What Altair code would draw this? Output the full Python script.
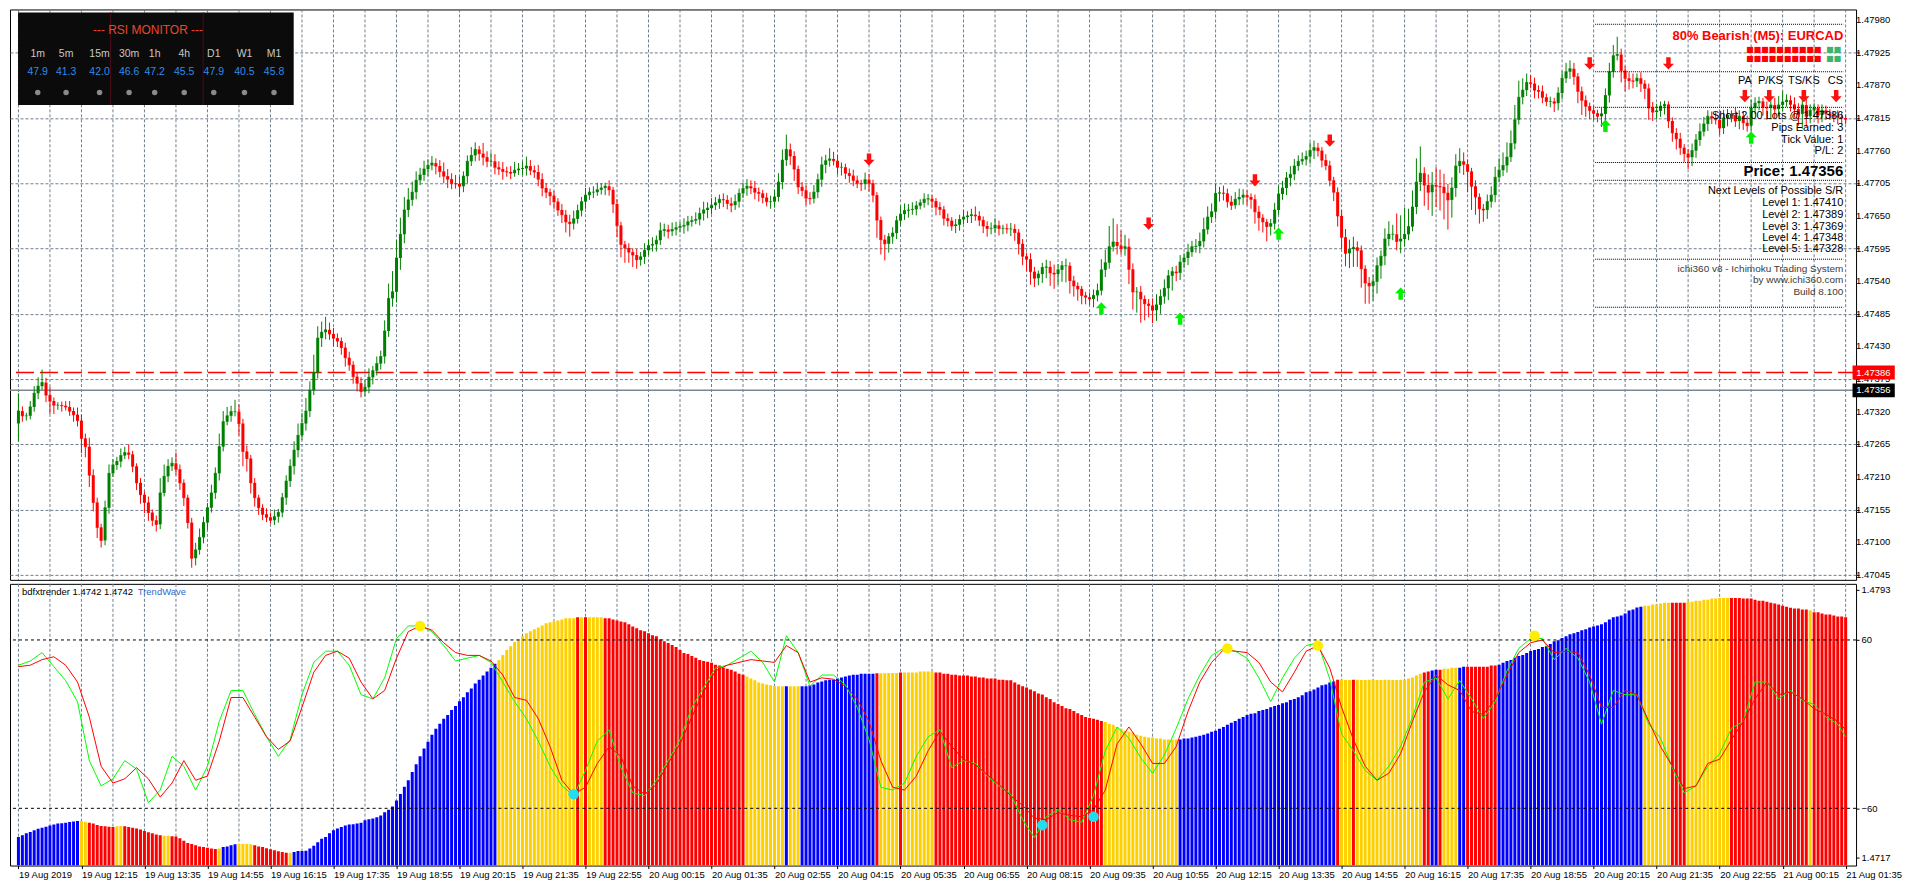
import json
import altair as alt
import pandas as pd

# ---------------------------------------------------------------- data
BASE = 1.47          # prices stored as points (0.00001) above 1.47000
PT = 1e-5

first_open = 300
close_pts = [
    321,313,313,328,351,363,369,348,338,331,331,330,328,321,315,305,275,261,213,167,
    125,103,158,216,230,236,246,251,248,228,200,180,167,150,137,130,183,211,228,233,
    223,200,175,133,73,87,108,133,158,183,216,261,303,313,320,320,300,253,241,200,
    175,158,147,142,137,143,150,175,203,228,255,280,300,321,356,386,444,454,458,451,
    444,439,428,411,399,379,368,354,361,378,389,401,413,456,511,522,579,619,660,677,
    690,710,719,729,735,739,734,725,717,712,705,704,700,717,742,752,762,755,749,742,
    742,732,729,725,724,722,727,729,730,734,727,724,712,697,690,684,674,660,652,640,
    637,645,659,674,685,690,690,694,697,700,694,670,634,602,596,589,584,576,581,592,
    600,602,609,625,627,624,627,630,632,634,640,642,644,654,660,663,668,672,678,677,
    671,668,674,688,696,700,697,690,688,681,674,674,682,707,744,762,751,729,699,693,
    680,679,690,711,736,743,746,743,732,732,722,718,710,705,704,711,705,685,643,610,
    603,615,621,642,653,659,660,661,667,672,678,679,675,665,661,646,642,633,635,644,
    648,650,652,650,643,633,629,629,634,629,629,628,628,622,603,582,577,556,545,552,
    563,564,554,552,559,566,566,541,532,527,516,513,510,516,524,559,571,598,606,600,
    595,598,560,522,522,510,502,499,491,500,514,528,549,556,554,572,579,589,598,599,
    607,627,648,657,688,689,688,674,668,678,681,685,682,678,657,647,640,632,637,660,
    687,697,714,720,734,742,745,750,760,765,760,744,735,710,690,650,614,587,594,597,
    592,561,537,532,539,566,582,611,619,619,607,611,619,632,665,707,722,702,690,702,
    700,699,689,677,697,734,742,737,725,700,682,662,660,674,685,715,727,735,749,772,
    812,850,862,875,873,862,860,850,843,843,840,857,882,893,898,885,860,845,835,828,
    823,818,822,853,893,920,922,895,882,878,877,882,873,865,832,825,827,835,838,810,
    790,780,765,755,749,760,778,792,805,818,815,812,798,815,820,820,810,818,807,802,
    832,840,843,833,832,837,830,837,842,845,838,830,822,837,818,828,832,820,828,822,
    820,818,817,815,813,
]
wick_up = [
    30,8,5,10,12,15,22,8,14,6,5,6,8,10,6,12,10,8,15,10,
    8,6,12,15,10,8,12,10,14,6,5,8,6,10,5,8,25,20,12,10,
    18,8,6,5,8,12,15,10,8,14,10,22,18,15,10,20,12,8,10,6,
    8,5,6,10,8,12,6,8,10,12,15,20,18,22,15,30,20,18,22,12,
    10,8,6,8,10,6,8,10,12,15,8,12,10,18,25,35,30,28,22,20,
    18,15,12,14,10,12,8,10,15,12,10,14,12,8,10,14,12,6,18,10,
    15,12,10,12,8,10,14,10,12,16,10,8,12,10,8,6,8,6,10,8,
    12,14,10,8,12,8,10,12,8,6,10,5,8,6,6,8,6,10,8,12,
    10,12,8,14,10,8,12,10,8,12,10,8,12,10,14,10,12,10,8,10,
    8,10,12,8,10,12,10,12,8,6,8,10,12,15,18,25,10,8,6,8,
    8,10,12,10,14,10,18,12,10,8,6,8,10,8,6,12,10,6,5,6,
    8,6,10,8,14,12,10,12,8,6,10,8,6,5,8,6,8,6,10,8,
    12,8,10,14,8,6,8,10,12,8,6,8,10,8,6,8,6,10,8,6,
    8,12,10,14,10,8,12,6,8,6,5,6,8,10,12,18,22,35,40,30,
    25,20,14,10,8,10,6,8,12,18,12,15,10,8,10,12,8,14,10,12,
    15,20,18,14,16,10,12,8,10,12,15,10,8,6,8,10,6,5,8,12,
    14,12,10,14,12,10,12,10,14,12,8,6,10,8,6,8,10,14,16,18,
    10,8,6,10,12,14,10,18,22,16,35,40,45,30,28,40,45,10,18,22,
    30,28,22,15,18,20,22,15,8,6,10,6,8,12,15,18,20,22,25,22,
    25,28,20,15,12,10,8,10,6,8,6,10,12,15,14,10,6,8,8,6,
    8,6,10,12,15,18,30,10,8,10,12,8,10,6,8,10,12,8,6,5,
    6,8,10,6,8,12,10,14,12,10,8,10,12,14,10,8,12,10,8,12,
    14,10,8,6,10,8,12,15,18,10,8,12,10,25,14,10,8,6,10,8,
    8,6,10,8,6,
]
wick_dn = [
    30,10,8,6,8,10,6,12,22,15,8,10,6,8,12,10,25,18,20,15,
    18,12,8,10,6,8,10,6,8,10,12,15,18,14,10,12,8,6,10,8,
    10,12,14,10,16,12,8,10,12,8,10,12,8,6,10,8,20,25,22,18,
    15,12,10,8,6,8,10,8,12,10,14,12,8,12,10,8,10,15,12,10,
    14,10,12,15,10,12,14,10,8,10,12,8,10,12,10,14,18,20,15,12,
    10,12,8,10,12,8,14,10,12,15,10,8,18,10,12,8,10,12,14,10,
    8,12,10,14,8,10,6,8,10,12,8,10,12,14,10,16,12,10,14,18,
    22,10,8,10,12,8,10,6,8,12,10,15,20,22,25,18,20,15,10,12,
    8,10,12,8,10,12,8,10,8,12,10,8,6,10,12,14,10,8,10,12,
    10,12,8,10,8,12,10,12,14,10,8,12,10,8,12,10,15,20,12,10,
    12,10,8,10,12,14,10,8,12,14,10,12,10,8,12,10,14,12,30,25,
    28,15,12,10,8,10,12,8,10,6,8,10,12,14,10,12,10,8,12,10,
    8,10,12,8,10,12,14,10,8,12,10,8,12,14,18,15,20,22,15,12,
    15,18,22,25,18,20,28,22,18,20,15,12,10,14,10,8,12,10,8,15,
    10,12,25,30,35,40,28,20,22,18,15,12,20,25,14,12,10,12,8,10,
    12,10,8,10,12,14,12,10,8,6,10,12,14,16,20,22,18,25,15,10,
    8,10,12,14,10,8,6,10,12,14,10,12,8,10,15,18,20,22,25,30,
    28,32,35,30,25,20,22,15,12,10,15,20,12,10,8,12,15,35,30,40,
    35,40,45,50,30,15,12,18,35,40,30,25,20,15,10,12,8,10,12,8,
    10,8,12,10,8,14,12,10,8,10,15,12,10,8,12,14,20,25,18,15,
    12,10,18,25,12,10,8,20,22,15,12,10,14,18,20,15,12,10,14,12,
    15,18,12,14,20,15,12,10,8,12,10,8,12,10,14,12,10,14,12,10,
    8,10,12,14,20,18,15,12,10,8,12,14,20,25,18,12,10,14,12,10,
    8,10,12,10,8,
]
# TrendWave histogram (points above 1.47000) and its colour state per bar
hist_pts = [
    229,234,239,243,248,252,255,258,261,264,267,268,269,271,273,274,274,272,269,267,
    263,260,259,258,257,259,260,259,257,255,253,250,246,242,239,236,234,232,232,231,
    230,225,218,212,209,205,202,200,198,196,195,196,200,202,205,208,209,209,209,208,
    205,202,200,197,194,191,188,186,184,184,186,189,189,190,196,204,214,224,229,239,
    248,253,257,261,264,265,267,269,276,279,281,285,290,299,306,315,332,351,371,390,
    413,435,458,480,499,519,536,550,564,575,589,600,614,625,639,650,664,675,687,698,
    709,720,731,745,759,770,782,790,798,807,812,818,823,829,835,838,840,843,846,849,
    849,849,852,852,852,852,852,852,852,849,849,846,843,840,838,832,826,821,815,812,
    807,801,798,790,784,779,773,768,759,751,748,742,737,731,728,726,723,717,715,709,
    706,703,698,692,689,684,678,673,667,664,661,659,656,656,656,656,656,656,656,656,
    656,659,661,667,670,673,675,675,678,681,684,687,689,689,692,692,692,692,693,693,
    693,694,694,694,695,695,695,695,695,698,698,698,698,695,695,692,692,689,689,687,
    687,687,684,684,681,681,678,678,678,675,675,673,673,667,661,656,653,647,642,636,
    633,625,620,611,606,600,594,592,586,580,575,569,566,564,561,558,555,550,547,541,
    536,530,527,525,519,516,513,511,511,508,508,505,505,505,505,505,508,508,511,513,
    516,519,522,527,530,536,541,547,553,558,564,569,575,578,580,586,589,592,597,600,
    603,608,611,617,620,625,631,639,642,647,653,659,661,667,670,675,675,674,674,675,
    675,674,674,675,675,674,674,675,675,674,674,675,675,678,681,687,692,695,698,701,
    703,703,706,706,709,709,709,712,712,712,712,712,712,712,715,715,717,723,728,731,
    737,742,745,751,756,759,762,768,770,776,784,787,793,798,804,807,810,815,818,823,
    826,829,832,838,846,852,854,857,863,871,874,880,882,885,885,888,888,891,893,893,
    893,893,893,893,896,896,899,899,902,902,905,905,907,907,907,907,907,907,905,905,
    905,902,899,899,896,893,891,888,885,882,879,877,877,874,874,871,866,866,863,860,
    860,857,854,854,852,
]
hist_runs = [
    ("B",16),("Y",2),("R",7),("Y",2),("R",10),("Y",2),("R",12),("Y",1),("B",4),("Y",4),
    ("R",9),("Y",1),("B",52),("Y",20),("R",1),("Y",1),("R",1),("Y",4),("R",36),("Y",10),
    ("B",1),("Y",3),("B",19),("R",1),("Y",5),("R",1),("Y",8),("R",43),("Y",19),("B",40),
    ("R",1),("Y",3),("R",1),("Y",17),("R",2),("B",2),("R",1),("Y",4),("B",2),("R",8),
    ("B",37),("Y",7),("R",4),("Y",11),("R",20),("Y",1),("R",9),
]
osc_bar = list(range(0, 463, 3)) + [464]
osc_fast = [
    42,45,51,41,31,16,-26,-44,-39,-26,
    -32,-56,-47,-23,-30,-47,-30,2,24,24,
    7,-9,-23,-11,21,44,52,52,42,21,
    18,33,61,70,70,66,56,45,47,49,
    44,30,16,4,-12,-30,-44,-51,-33,-12,
    -4,-31,-49,-51,-40,-26,-11,12,26,40,
    42,47,52,44,30,63,51,27,35,35,
    28,12,-11,-45,-47,-42,-23,-9,-4,-31,
    -26,-28,-37,-44,-50,-68,-81,-66,-61,-68,
    -70,-51,-19,-2,-10,-24,-35,-22,-3,18,
    35,49,54,52,47,33,16,33,47,56,
    58,32,-7,-19,-33,-40,-30,-16,5,30,
    33,18,31,18,4,16,38,54,61,61,
    46,54,47,30,0,24,21,21,0,-10,
    -31,-49,-44,-30,-21,-3,2,30,30,18,
    24,17,14,5,0,-9,
]
osc_slow = [
    41,42,46,48,42,30,5,-30,-42,-39,
    -31,-39,-52,-42,-26,-40,-37,-12,19,19,
    5,-9,-18,-12,12,37,49,52,47,30,
    18,24,47,66,70,67,58,51,49,49,
    45,35,19,17,4,-16,-40,-50,-45,-28,
    -16,-23,-44,-50,-43,-28,-14,5,23,38,
    42,44,46,45,44,56,51,30,33,32,
    27,18,2,-26,-45,-47,-37,-19,-5,-16,
    -25,-29,-36,-43,-51,-58,-67,-68,-63,-65,
    -66,-61,-47,-14,-2,-14,-28,-28,-16,9,
    30,44,53,52,51,44,30,23,37,52,
    56,40,12,-11,-30,-40,-35,-21,2,23,
    35,28,24,9,7,18,35,51,58,60,
    51,52,51,35,12,12,24,21,2,-16,
    -30,-46,-44,-28,-25,-11,2,18,30,21,
    23,18,11,7,2,-4,
]
peak_bar, peak_osc = [102, 307, 330, 385], [70, 54, 56, 63]
trough_bar, trough_osc = [141, 260, 273], [-50, -72, -66]

price_ticks = [1.47980, 1.47925, 1.47870, 1.47815, 1.47760, 1.47705, 1.47650, 1.47595,
               1.47540, 1.47485, 1.47430, 1.47375, 1.47320, 1.47265, 1.47210, 1.47155,
               1.47100, 1.47045]
ind_ticks = [1.4717, 1.4793]
osc_levels = [-60, 60]
time_labels = ["19 Aug 2019", "19 Aug 12:15", "19 Aug 13:35", "19 Aug 14:55", "19 Aug 16:15",
               "19 Aug 17:35", "19 Aug 18:55", "19 Aug 20:15", "19 Aug 21:35", "19 Aug 22:55",
               "20 Aug 00:15", "20 Aug 01:35", "20 Aug 02:55", "20 Aug 04:15", "20 Aug 05:35",
               "20 Aug 06:55", "20 Aug 08:15", "20 Aug 09:35", "20 Aug 10:55", "20 Aug 12:15",
               "20 Aug 13:35", "20 Aug 14:55", "20 Aug 16:15", "20 Aug 17:35", "20 Aug 18:55",
               "20 Aug 20:15", "20 Aug 21:35", "20 Aug 22:55", "21 Aug 00:15", "21 Aug 01:35"]
rsi_tf = ["1m", "5m", "15m", "30m", "1h", "4h", "D1", "W1", "M1"]
rsi_val = [47.9, 41.3, 42.0, 46.6, 47.2, 45.5, 47.9, 40.5, 45.8]
sell_bar = [216, 287, 314, 333, 399, 419]
sell_price = [1.47745, 1.47637, 1.47710, 1.47777, 1.47907, 1.47907]
buy_bar = [275, 295, 320, 351, 403, 440]
buy_price = [1.47494, 1.47477, 1.47620, 1.47519, 1.47802, 1.47782]
ask_price = 1.47386
bid_price = 1.47356
sr_levels = [1.47410, 1.47389, 1.47369, 1.47348, 1.47328]
bias_pct, symbol = 80, "EURCAD"
lots, pips, tick_value, pl = 2.00, 3, 1, 2
indicator_vals = [1.4742, 1.4742]

# ---------------------------------------------------------------- layout / style
W, H1, H2 = 1848, 571, 282
X_DOM = [-0.875, 465.375]
Y_DOM = [1.470365, 1.47998]
H_DOM = [1.471477, 1.479468]
O_DOM = [-100.8, 100.0]
PXB = W / (X_DOM[1] - X_DOM[0])
FONT = "Liberation Sans"
GRID = "#6F7D8C"
UP_C, DN_C = "#008000", "#FF0000"
HCOL = {"B": "#0000FF", "Y": "#FFD000", "R": "#FF0000"}
DOWN_ARROW = "M-0.4,-1.1L0.4,-1.1L0.4,0.05L1,0.05L0,1.1L-1,0.05L-0.4,0.05Z"
UP_ARROW = "M-0.4,1.1L0.4,1.1L0.4,-0.05L1,-0.05L0,-1.1L-1,-0.05L-0.4,-0.05Z"

xs = alt.Scale(domain=X_DOM, nice=False, zero=False)
ys = alt.Scale(domain=Y_DOM, nice=False, zero=False)
hs = alt.Scale(domain=H_DOM, nice=False, zero=False)
osc_s = alt.Scale(domain=O_DOM, nice=False, zero=False)


def P(v):
    return BASE + v * PT


def XE(f="i"):            # main panel: no x axis at all
    return alt.X(f"{f}:Q", scale=xs, axis=None)


def XI(f="i"):            # indicator panel: axis merged from the histogram layer
    return alt.X(f"{f}:Q", scale=xs, title=None)


def YE(f, scale=ys):      # axis merged from the layer that defines it
    return alt.Y(f"{f}:Q", scale=scale, title=None)


def texts(rows, scale=ys, xenc=XE, font=FONT, **kw):
    df = pd.DataFrame(rows, columns=["t", "x", "y"])
    return alt.Chart(df).mark_text(font=font, baseline="middle", **kw).encode(
        x=xenc("x"), y=YE("y", scale), text="t:N")


# ---------------------------------------------------------------- main panel
opens = [first_open] + close_pts[:-1]
rows = []
for i, (o, c, u, d) in enumerate(zip(opens, close_pts, wick_up, wick_dn)):
    rows.append({"i": i, "o": P(o), "c": P(c), "h": P(max(o, c) + u), "l": P(min(o, c) - d),
                 "col": UP_C if c >= o else DN_C})
cdf = pd.DataFrame(rows)

vgrid_df = pd.DataFrame({"i": list(range(0, 465, 8))})
vgrid_main = alt.Chart(vgrid_df).mark_rule(color=GRID, strokeDash=[3, 2], strokeWidth=1).encode(x=XE())
vgrid_ind = alt.Chart(vgrid_df).mark_rule(color=GRID, strokeDash=[3, 2], strokeWidth=1).encode(x=XI())

# price scale: grid + ticks from the axis, labels as text beside the plot
yaxis_main = alt.Axis(orient="right", values=price_ticks, labels=False, grid=True, gridColor=GRID,
                      gridDash=[3, 2], gridWidth=1, tickSize=3, domain=False, title=None)
lab_x = X_DOM[1] + 5 / PXB
price_labels = texts([[f"{v:.5f}", lab_x, v] for v in price_ticks], fontSize=9.5, color="black",
                     align="left")

bid_line = alt.Chart(pd.DataFrame({"p": [bid_price]})).mark_rule(
    color="#7A8896", strokeWidth=1.5).encode(y=YE("p"))
ask_line = alt.Chart(pd.DataFrame({"p": [ask_price]})).mark_rule(
    color="#FF0000", strokeWidth=1.5, strokeDash=[18, 6]).encode(y=YE("p"))

wicks = alt.Chart(cdf).mark_rule(strokeWidth=1).encode(
    x=XE(), y=alt.Y("l:Q", scale=ys, axis=yaxis_main), y2="h:Q",
    color=alt.Color("col:N", scale=None))
bodies = alt.Chart(cdf).mark_bar(size=3).encode(
    x=XE(), y=YE("o"), y2="c:Q", color=alt.Color("col:N", scale=None))
doji = alt.Chart(cdf).mark_tick(orient="horizontal", size=3, thickness=1).encode(
    x=XE(), y=YE("c"), color=alt.Color("col:N", scale=None))

sell = alt.Chart(pd.DataFrame({"i": sell_bar, "p": sell_price})).mark_point(
    shape=DOWN_ARROW, filled=True, size=125, color="#FF1010", opacity=1).encode(x=XE(), y=YE("p"))
buy = alt.Chart(pd.DataFrame({"i": buy_bar, "p": buy_price})).mark_point(
    shape=UP_ARROW, filled=True, size=125, color="#00F000", opacity=1).encode(x=XE(), y=YE("p"))

# RSI monitor widget (top-left)
rsi_box = alt.Chart(pd.DataFrame({"x1": [-0.1], "x2": [69.9], "y1": [P(993)], "y2": [P(837)]})).mark_rect(
    color="#0B0B0B").encode(x=XE("x1"), x2="x2:Q", y=YE("y1"), y2="y2:Q")
rsi_sep = alt.Chart(pd.DataFrame({"x": [23.4, 46.9], "y1": [P(993)] * 2, "y2": [P(837)] * 2})).mark_rule(
    color="#4A0D16", strokeWidth=1).encode(x=XE("x"), y=YE("y1"), y2="y2:Q")
rsi_cols = [4.9, 12.1, 20.6, 28.1, 34.6, 42.1, 49.6, 57.4, 64.9]
rsi_title = texts([["--- RSI MONITOR ---", 32.9, P(963)]], fontSize=12, color="#E8472E", align="center")
rsi_tf_t = texts([[t, x, P(923)] for t, x in zip(rsi_tf, rsi_cols)], fontSize=10.5, color="#C8C8C8",
                 align="center")
rsi_val_t = texts([[f"{v:.1f}", x, P(892)] for v, x in zip(rsi_val, rsi_cols)], fontSize=10.5,
                  color="#2F8BEA", align="center")
rsi_dots = alt.Chart(pd.DataFrame({"x": rsi_cols, "y": [P(858)] * 9})).mark_point(
    filled=True, size=30, color="#8A8A8A", opacity=1).encode(x=XE("x"), y=YE("y"))

# ichi360 dashboard (top-right)
XR = 463.4
dash_y = [P(973), P(893), P(833), P(740), P(710), P(577), P(496)]
dash_lines = alt.Chart(pd.DataFrame({"x1": [400.4] * 7, "x2": [XR] * 7, "y": dash_y})).mark_rule(
    color="black", strokeWidth=1, strokeDash=[1, 1]).encode(x=XE("x1"), x2="x2:Q", y=YE("y"))
title_t = texts([[f"{bias_pct}% Bearish (M5): {symbol}", XR, P(953)]], fontSize=13, fontWeight="bold",
                color="#FF0000", align="right")
sq_red = texts([["\u25A0" * 10, 457.9, P(930)], ["\u25A0" * 10, 457.9, P(915)]], fontSize=8,
               color="#FF0000", align="right", font="DejaVu Sans")
sq_green = texts([["\u25A0" * 2, 462.9, P(930)], ["\u25A0" * 2, 462.9, P(915)]], fontSize=8,
                 color="#3CB371", align="right", font="DejaVu Sans")
cols_t = texts([["PA", 438.4, P(878)], ["P/KS", 444.9, P(878)], ["TS/KS", 453.4, P(878)],
                ["CS", 461.4, P(878)]], fontSize=11, color="black", align="center")
widget_arrows = alt.Chart(pd.DataFrame({"i": [438.4, 444.6, 453.4, 461.6], "p": [P(852)] * 4})).mark_point(
    shape=DOWN_ARROW, filled=True, size=125, color="#FF1010", opacity=1).encode(x=XE(), y=YE("p"))
info_t = texts([
    [f"Short {lots:.2f} Lots @ {ask_price:.5f}", XR, P(818)],
    [f"Pips Earned: {pips}", XR, P(798)],
    [f"Tick Value: {tick_value}", XR, P(778)],
    [f"P/L: {pl}", XR, P(759)],
    ["Next Levels of Possible S/R", XR, P(692)],
] + [[f"Level {k + 1}: {lv:.5f}", XR, P(y)] for k, (lv, y) in
     enumerate(zip(sr_levels, [672, 652, 632, 612, 594]))],
    fontSize=11, color="black", align="right")
price_t = texts([[f"Price: {bid_price:.5f}", XR, P(725)]], fontSize=15, fontWeight="bold",
                color="black", align="right")
brand_t = texts([["ichi360 v8 - Ichimoku Trading System", XR, P(561)],
                 ["by www.ichi360.com", XR, P(542)], ["Build 8.100", XR, P(521)]],
                fontSize=10, color="#3A3A3A", align="right")

# current price tags on the price scale
bx1 = X_DOM[1] + 1.5 / PXB
bx2 = X_DOM[1] + 44 / PXB
bxc = X_DOM[1] + 22.5 / PXB
HALF = 7 * (Y_DOM[1] - Y_DOM[0]) / 578
tags = pd.DataFrame({"x1": [bx1, bx1], "x2": [bx2, bx2],
                     "y1": [ask_price - HALF, bid_price - HALF],
                     "y2": [ask_price + HALF, bid_price + HALF],
                     "col": ["#FF0000", "#000000"]})
tag_box = alt.Chart(tags).mark_rect().encode(x=XE("x1"), x2="x2:Q", y=YE("y1"), y2="y2:Q",
                                             color=alt.Color("col:N", scale=None))
tag_t = texts([[f"{ask_price:.5f}", bxc, ask_price], [f"{bid_price:.5f}", bxc, bid_price]],
              fontSize=9.5, color="white", align="center")

main = alt.layer(vgrid_main, bid_line, ask_line, wicks, bodies, doji, sell, buy,
                 rsi_box, rsi_sep, rsi_title, rsi_tf_t, rsi_val_t, rsi_dots,
                 dash_lines, title_t, sq_red, sq_green, cols_t, widget_arrows, info_t, price_t,
                 brand_t, price_labels, tag_box, tag_t).properties(width=W, height=H1)

# ---------------------------------------------------------------- indicator panel
hcols = []
for code, n in hist_runs:
    hcols += [code] * n
hdf = pd.DataFrame({"i": list(range(len(hist_pts))), "h": [P(v) for v in hist_pts],
                    "col": [HCOL[c] for c in hcols], "b": H_DOM[0]})

xaxis = alt.Axis(values=list(range(0, 465, 16)),
                 labelExpr=json.dumps(time_labels) + "[round(datum.value/16)]",
                 labelAlign="left", labelPadding=1, tickSize=3, grid=False, domain=False,
                 title=None, labelOverlap=False, labelFlush=False)
hist_bars = alt.Chart(hdf).mark_bar(size=3, clip=True).encode(
    x=alt.X("i:Q", scale=xs, axis=xaxis),
    y=alt.Y("h:Q", scale=hs, axis=alt.Axis(orient="right", values=ind_ticks, format=".4f", grid=False,
                                            tickSize=3, domain=False, title=None, labelPadding=2)),
    y2="b:Q", color=alt.Color("col:N", scale=None))
hist_group = alt.layer(vgrid_ind, hist_bars)

fdf = pd.DataFrame({"i": osc_bar, "v": osc_fast})
sdf = pd.DataFrame({"i": osc_bar, "v": osc_slow})
fast_line = alt.Chart(fdf).mark_line(color="#00FF00", strokeWidth=1).encode(
    x=XI(), y=alt.Y("v:Q", scale=osc_s, axis=alt.Axis(orient="right", values=osc_levels, grid=False,
                                                       tickSize=3, domain=False, title=None,
                                                       labelPadding=2)))
slow_line = alt.Chart(sdf).mark_line(color="#FF0000", strokeWidth=1).encode(x=XI(), y=YE("v", osc_s))
lvl = alt.Chart(pd.DataFrame({"v": osc_levels})).mark_rule(
    color="black", strokeWidth=1, strokeDash=[3, 3]).encode(y=YE("v", osc_s))
peaks = alt.Chart(pd.DataFrame({"i": peak_bar, "v": peak_osc})).mark_point(
    filled=True, size=110, color="#FFEE00", opacity=1).encode(x=XI(), y=YE("v", osc_s))
troughs = alt.Chart(pd.DataFrame({"i": trough_bar, "v": trough_osc})).mark_point(
    filled=True, size=110, color="#22DDEE", opacity=1).encode(x=XI(), y=YE("v", osc_s))
name_t = texts([[f"bdfxtrender {indicator_vals[0]:.4f} {indicator_vals[1]:.4f}", 0.9, 94]], scale=osc_s,
               xenc=XI, fontSize=9.5, color="black", align="left")
wave_t = texts([["TrendWave", 30.3, 94]], scale=osc_s, xenc=XI, fontSize=9.5, color="#2D6BC8",
               align="left")
osc_group = alt.layer(fast_line, slow_line, lvl, peaks, troughs, name_t, wave_t)

ind = alt.layer(hist_group, osc_group).resolve_scale(y="independent").properties(width=W, height=H2)

chart = alt.vconcat(main, ind, spacing=2, padding=0, background="white").configure_view(
    stroke="black", strokeWidth=1).configure_axis(
    labelFont=FONT, labelFontSize=9.5, labelColor="black", tickColor="black")

chart.save("out.html", embed_options={"renderer": "svg", "actions": False})
